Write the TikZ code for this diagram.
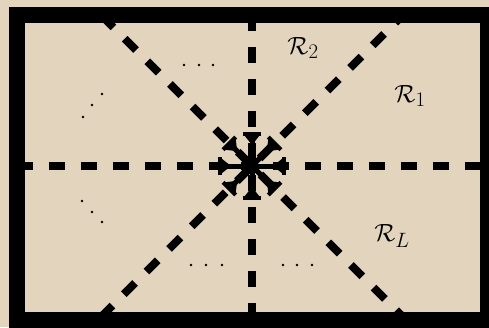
\documentclass[tikz,border=0pt]{standalone}
\usetikzlibrary{calc}
\definecolor{paper}{RGB}{226,212,189}
\tikzset{
  dline/.style={line width=8pt, dash pattern=on 16pt off 16pt},
  frame/.style={line width=16pt},
  spokefill/.style={fill=black, draw=none},
  lbl/.style={inner sep=0pt, font=\fontsize{28}{32}\selectfont},
  dotf/.style={fill=black, draw=none}
}
\begin{document}
\begin{tikzpicture}[x=1pt,y=-1pt]
\fill[paper] (0,0) rectangle (489,327);
\useasboundingbox (0,0) rectangle (489,327);
\coordinate (C) at (252,166);
\coordinate (T) at (252,15);
\coordinate (B) at (252,320);
\coordinate (L) at (17,166);
\coordinate (R) at (488,166);
\coordinate (TL) at (101,15);
\coordinate (BR) at (406,320);
\coordinate (BL) at (98,320);
\coordinate (TR) at (403,15);
% dashed partition lines
\draw[dline] (T) -- (B);
\draw[dline] (L) -- (R);
\draw[dline, dash phase=30.5pt] (TL) -- (BR);
\draw[dline, dash phase=27.5pt] (BL) -- (TR);
% central spokes
\foreach \a in {0,45,...,315}{
  \begin{scope}[shift={(C)}, rotate=\a]
    \fill[spokefill] (3,-2.5) rectangle (31,2.5);
    \fill[spokefill] (30,-9) rectangle (34,9);
    \fill[spokefill] (30.5,-7.5) -- (30.5,7.5) -- (21,0) -- cycle;
  \end{scope}
}
% frame
\draw[frame] (17,15) rectangle (488,320);
% labels
\node[lbl] (r2) at (303,48) {$\mathcal{R}_2$};
\node[lbl] (r1) at (410,96) {$\mathcal{R}_1$};
\node[lbl] (rL) at (392,236) {$\mathcal{R}_L$};
% dots
\foreach \p in {(184,65),(199,65),(213,65),
                (191,265),(206,265),(222,265),
                (283,265),(297,265),(312,265),
                (102,94),(92,105),(83,117),
                (82,201),(92,212),(102,222)}{
  \fill[dotf] \p circle (1.4);
}
\end{tikzpicture}
\end{document}
